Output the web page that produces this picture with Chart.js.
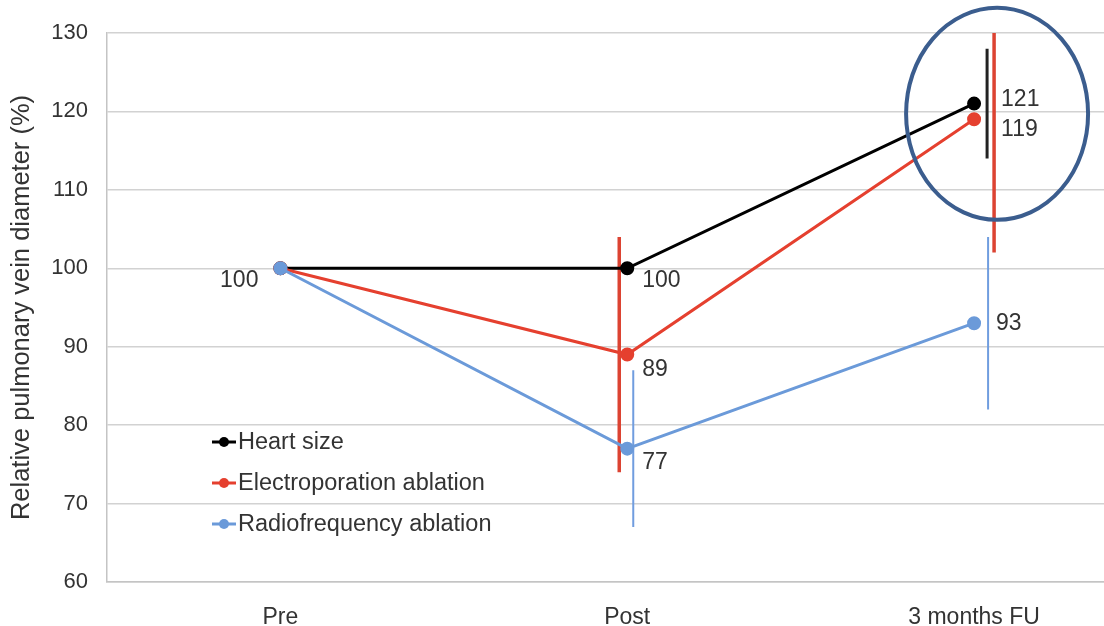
<!DOCTYPE html>
<html>
<head>
<meta charset="utf-8">
<script src="https://cdn.jsdelivr.net/npm/chart.js@4/dist/chart.umd.min.js"></script>
<style>
  html, body { margin: 0; padding: 0; background: #fff; overflow: hidden; }
  #wrap { width: 1156px; height: 626px; }
</style>
</head>
<body>
<div id="wrap"><canvas id="pvChart"></canvas></div>
<script>
const timepoints = ["Pre", "Post", "3 months FU"];

const heartSize = [100, 100, 121];
const heartSizeErr = [0, 0, 7];
const heartSizeLabels = ["100", "100", "121"];

const electroporation = [100, 89, 119];
const electroporationErr = [0, 15, 17];
const electroporationLabels = [null, "89", "119"];

const radiofrequency = [100, 77, 93];
const radiofrequencyErr = [0, 10, 11];
const radiofrequencyLabels = [null, "77", "93"];

const FONT = "'Liberation Sans', Arial, sans-serif";
const TEXT = "#333";

// error bars are drawn under the points, shifted a little sideways
const errorBars = {
  id: "errorBars",
  beforeDatasetsDraw(chart) {
    const { ctx, chartArea, scales: { x, y } } = chart;
    ctx.save();
    ctx.beginPath();
    ctx.rect(chartArea.left, chartArea.top, chartArea.right - chartArea.left, chartArea.bottom - chartArea.top);
    ctx.clip();
    chart.data.datasets.forEach((ds) => {
      ds.data.forEach((v, i) => {
        const e = ds.errors[i];
        if (!e) return;
        const px = x.getPixelForValue(i) + ds.errOffset[i];
        ctx.strokeStyle = ds.errColor;
        ctx.lineWidth = ds.errWidth;
        ctx.beginPath();
        ctx.moveTo(px, y.getPixelForValue(v + e));
        ctx.lineTo(px, y.getPixelForValue(v - e));
        ctx.stroke();
      });
    });
    ctx.restore();
  },
  afterDatasetsDraw(chart) {
    const { ctx, scales: { x, y } } = chart;
    ctx.save();
    ctx.font = "23px " + FONT;
    ctx.fillStyle = TEXT;
    ctx.textBaseline = "middle";
    chart.data.datasets.forEach((ds) => {
      ds.data.forEach((v, i) => {
        const t = ds.pointLabels[i];
        if (!t) return;
        const [dx, dy, align] = ds.labelPos[i];
        ctx.textAlign = align;
        ctx.fillText(t, x.getPixelForValue(i) + dx, y.getPixelForValue(v) + dy);
      });
    });
    ctx.restore();
  }
};

// legend drawn inside the plot, lower left
const innerLegend = {
  id: "innerLegend",
  afterDraw(chart) {
    const { ctx, chartArea } = chart;
    ctx.save();
    ctx.font = "23.5px " + FONT;
    ctx.textBaseline = "middle";
    ctx.textAlign = "left";
    chart.data.datasets.forEach((ds, i) => {
      const lx = chartArea.left + 105;
      const ly = chartArea.top + 409 + i * 41;
      ctx.strokeStyle = ds.borderColor;
      ctx.lineWidth = 3;
      ctx.beginPath();
      ctx.moveTo(lx, ly);
      ctx.lineTo(lx + 24, ly);
      ctx.stroke();
      ctx.fillStyle = ds.borderColor;
      ctx.beginPath();
      ctx.arc(lx + 12, ly, 5, 0, Math.PI * 2);
      ctx.fill();
      ctx.fillStyle = TEXT;
      ctx.fillText(ds.label, lx + 26, ly + 1);
    });
    ctx.restore();
  }
};

// highlight ring around the 3 month values
const highlight = {
  id: "highlight",
  afterDraw(chart) {
    const { ctx, scales: { x, y } } = chart;
    ctx.save();
    ctx.strokeStyle = "#3b5d8e";
    ctx.lineWidth = 4;
    ctx.beginPath();
    ctx.ellipse(x.getPixelForValue(2) + 23, y.getPixelForValue(119.7), 91, 106, 0, 0, Math.PI * 2);
    ctx.stroke();
    ctx.restore();
  }
};

new Chart(document.getElementById("pvChart"), {
  type: "line",
  data: {
    labels: timepoints,
    datasets: [
      {
        label: "Heart size",
        data: heartSize,
        errors: heartSizeErr,
        pointLabels: heartSizeLabels,
        labelPos: [[-22, 12, "right"], [15, 12, "left"], [27, -4, "left"]],
        errOffset: [0, 0, 13],
        errColor: "#222",
        errWidth: 3,
        borderColor: "#000",
        backgroundColor: "#000",
        borderWidth: 3,
        pointRadius: 5.5,
        order: 3
      },
      {
        label: "Electroporation ablation",
        data: electroporation,
        errors: electroporationErr,
        pointLabels: electroporationLabels,
        labelPos: [[0, 0, "left"], [15, 15, "left"], [27, 10, "left"]],
        errOffset: [0, -8, 20],
        errColor: "#dc4332",
        errWidth: 3.5,
        borderColor: "#e5402f",
        backgroundColor: "#e5402f",
        borderWidth: 3,
        pointRadius: 5.5,
        order: 2
      },
      {
        label: "Radiofrequency ablation",
        data: radiofrequency,
        errors: radiofrequencyErr,
        pointLabels: radiofrequencyLabels,
        labelPos: [[0, 0, "left"], [15, 14, "left"], [22, 0, "left"]],
        errOffset: [0, 6, 14],
        errColor: "#709ddf",
        errWidth: 2,
        borderColor: "#6b9ad9",
        backgroundColor: "#6b9ad9",
        borderWidth: 3,
        pointRadius: 5.5,
        order: 1
      }
    ]
  },
  options: {
    responsive: true,
    maintainAspectRatio: false,
    animation: false,
    layout: {
      padding: { top: 33, right: 0, left: 0, bottom: 0 }
    },
    plugins: {
      legend: { display: false },
      tooltip: { enabled: false }
    },
    elements: {
      line: { tension: 0 }
    },
    scales: {
      x: {
        offset: true,
        grid: { display: false },
        border: { display: true, color: "#c4c4c4", width: 1.5 },
        ticks: {
          color: TEXT,
          padding: 14,
          font: { family: FONT, size: 23 }
        },
        afterFit(scale) {
          scale.height = 44;
        }
      },
      y: {
        min: 60,
        max: 130,
        ticks: {
          stepSize: 10,
          color: TEXT,
          padding: 19,
          font: { family: FONT, size: 22 }
        },
        grid: {
          color: "#d2d2d2",
          lineWidth: 1.5,
          drawTicks: false
        },
        border: { display: true, color: "#c4c4c4", width: 1.5 },
        title: {
          display: true,
          text: "Relative pulmonary vein diameter (%)",
          color: TEXT,
          padding: { top: 7, bottom: 0 },
          font: { family: FONT, size: 25.5 }
        },
        afterFit(scale) {
          scale.width = 107;
        }
      }
    }
  },
  plugins: [errorBars, innerLegend, highlight]
});
</script>
</body>
</html>
